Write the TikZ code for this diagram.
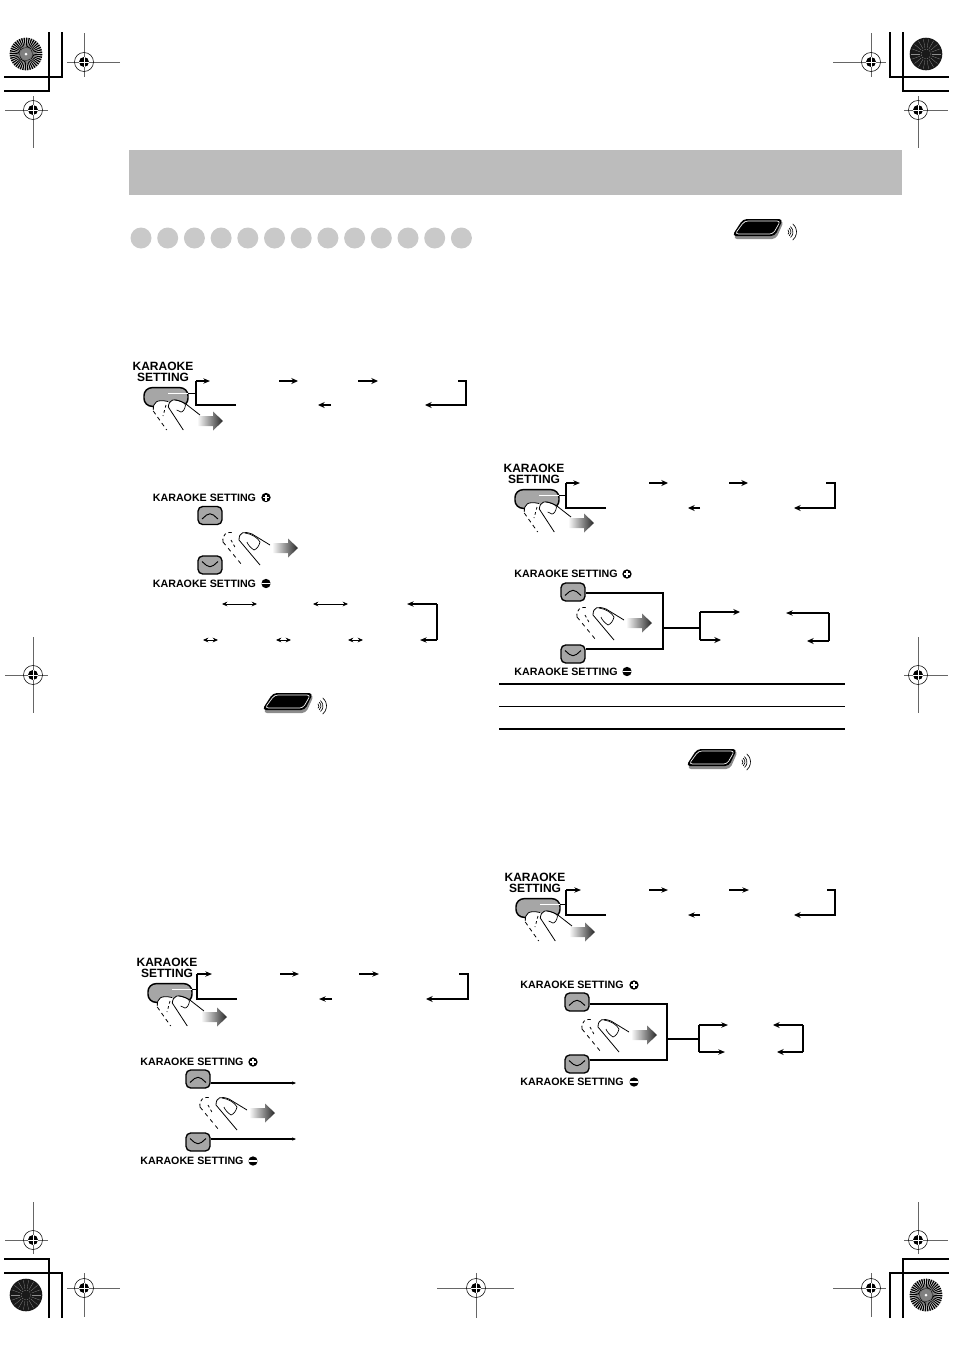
\documentclass[tikz,border=0pt]{standalone}
\usepackage{fontspec}
\setmainfont{Liberation Sans}
\usetikzlibrary{arrows.meta,calc}
\definecolor{bandgray}{HTML}{BCBCBC}
\definecolor{dotgray}{HTML}{C9C9C9}
\definecolor{keygray}{HTML}{A6A6A6}
\tikzset{
    flow/.style={line width=0.8pt,-{Stealth[length=5pt,width=4pt]}},
    flowthick/.style={line width=1.2pt,-{Stealth[length=5pt,width=4.5pt]}},
    both/.style={line width=0.7pt,{Stealth[length=4pt,width=3.5pt]}-{Stealth[length=4pt,width=3.5pt]}},
    wire/.style={line width=0.8pt},
    wirethick/.style={line width=1.2pt},
    keylabel/.style={font=\bfseries\fontsize{8}{9}\selectfont,inner sep=0pt},
    biglabel/.style={font=\bfseries\fontsize{9}{8.6}\selectfont,align=center,inner sep=0pt},
    keybtn/.style={draw,fill=keygray,line width=1pt,rounded corners=3.5pt,minimum width=18pt,minimum height=13.5pt,inner sep=0pt},
    upbtn/.style={keybtn,path picture={\draw[line width=0.7pt] (path picture bounding box.center) ++(-8,3.5) -- ++(8,-7) -- ++(8,7);}},
    downbtn/.style={keybtn,path picture={\draw[line width=0.7pt] (path picture bounding box.center) ++(-8,-3.5) -- ++(8,7) -- ++(8,-7);}},
    plusdot/.style={circle,fill=black,minimum size=7pt,inner sep=0pt,path picture={\draw[white,line width=0.9pt] (path picture bounding box.center) ++(-3,0) -- ++(6,0) ++(-3,-3) -- ++(0,6);}},
    minusdot/.style={circle,fill=black,minimum size=7pt,inner sep=0pt,path picture={\draw[white,line width=0.9pt] (path picture bounding box.center) ++(-6,0) -- ++(12,0);}},
    pill/.style={draw,fill=keygray,line width=1.1pt,rounded corners=6pt,minimum width=33pt,minimum height=14pt,inner sep=0pt},
    regline/.style={line width=0.5pt,black!60},
    pics/shadearrow/.style={code={
        \shade[left color=white,middle color=black!65,right color=black!85] (0,-5) -- (16,-5) -- (16,-9.5) -- (26,0) -- (16,9.5) -- (16,5) -- (0,5) -- cycle;
    }},
    pics/presshand/.style={code={
        \node[pill] (pill) at (3,25) {};
        \draw[white,line width=1pt] (5,21.3) -- (25,21.3);
        \coordinate (grip) at (25,21.3);
        \fill[white] (-9.7,39) .. controls (-10,30) and (-6,27) .. (5,29.5) -- (12,40) -- (4,58) -- cycle;
        \fill[white] (5.3,35) .. controls (6,28) and (10,25) .. (22,31.3) -- (37,43) -- (20.3,58) -- cycle;
        \draw[line width=0.6pt] (-9.7,38) .. controls (-10,30) and (-6,27) .. (5,29.5);
        \draw[line width=0.6pt] (5.3,35) .. controls (6,28) and (10,25) .. (22,31.3) -- (37,43);
        \draw[line width=0.6pt] (5.3,35) -- (20.3,58);
        \draw[line width=0.5pt] (12,28) .. controls (18,29) and (22,31) .. (22.5,33) .. controls (22,37) and (20,40) .. (18,40) -- (13.7,38);
        \draw[line width=0.6pt,dash pattern=on 3pt off 2.5pt] (-9.7,39) -- (3.7,58);
        \draw[line width=0.6pt,dash pattern=on 2pt off 2pt] (3,33) -- (0,44);
        \pic at (34,49) {shadearrow};
    }},
    pics/tiphand/.style={code={
        \draw[line width=0.6pt,dash pattern=on 2.5pt off 2pt] (13,2) .. controls (12,-5) and (16,-9) .. (24,-7);
        \draw[line width=0.6pt,dash pattern=on 3pt off 3pt] (13,2) -- (32,25);
        \draw[line width=0.6pt,dash pattern=on 2pt off 2pt] (21,0) -- (26,9);
        \fill[white] (29,0) .. controls (29,-8) and (34,-9) .. (42,-6) -- (60,5) -- (50,25) -- cycle;
        \draw[line width=0.6pt] (50,25) -- (29,0) .. controls (29,-8) and (34,-9) .. (42,-6) -- (60,5);
        \draw[line width=0.5pt] (35,-7) .. controls (42,-6) and (48,-2) .. (50,2) .. controls (49,6) and (47,9) .. (44,10) .. controls (41,8) and (38,5) .. (37,2);
        \pic at (62,8) {shadearrow};
    }},
    pics/remote/.style={code={
        \fill[black!45,rounded corners=3pt] (-24,11) -- (-13,-7) -- (27,-7) -- (19,11) -- cycle;
        \fill[black,rounded corners=3pt] (-25,8) -- (-14,-9) -- (26,-9) -- (18,8) -- cycle;
        \draw[white,line width=0.5pt,rounded corners=2.5pt] (-22,6) -- (-12.5,-7) -- (23.5,-7) -- (16,6) -- cycle;
        \foreach \rad in {3,5,7,10.5} {
            \draw[line width=0.5pt] (29,4) ++(-50:\rad) arc[start angle=-50,end angle=50,radius=\rad];
        }
    }},
    pics/sunlight/.style={code={
        \fill[black!15] (0,0) circle[radius=16.3];
        \foreach \ang in {0,9,...,351} {
            \fill[black] (0,0) -- (\ang:16.3) arc[start angle=\ang,delta angle=5,radius=16.3] -- cycle;
        }
        \fill[black!50] (0,0) circle[radius=6];
        \fill[white] (0,0) circle[radius=1.5];
    }},
    pics/sundark/.style={code={
        \fill[black!90] (0,0) circle[radius=16.3];
        \foreach \ang in {0,20,...,340} {
            \draw[black!45,line width=0.2pt] (\ang:6) -- (\ang:15);
        }
        \draw[black!55,line width=0.4pt,dash pattern=on 1pt off 1pt] (0,0) circle[radius=5];
    }}
}
\begin{document}
\begin{tikzpicture}[x=0.75pt,y=-0.75pt]
    \useasboundingbox (0,0) rectangle (954,1350);

    % header band and dots
    \fill[bandgray] (129,150) rectangle (902,195);
    \foreach \i in {0,...,12} {
        \fill[dotgray] (141+26.7*\i,238) circle[radius=10.5];
    }

    % printer marks
    \pic at (26,54) {sunlight};
    \pic at (926,54) {sundark};
    \pic at (26,1295) {sundark};
    \pic at (926,1295) {sunlight};
    \draw[line width=0.9pt] (62,32) -- (62,77) -- (4,77);
    \draw[line width=0.9pt] (49,32) -- (49,91) -- (4,91);
    \draw[line width=0.9pt] (890,32) -- (890,77) -- (949,77);
    \draw[line width=0.9pt] (903,32) -- (903,91) -- (949,91);
    \draw[line width=0.9pt] (49,1318) -- (49,1259) -- (4,1259);
    \draw[line width=0.9pt] (62,1318) -- (62,1273) -- (4,1273);
    \draw[line width=0.9pt] (903,1318) -- (903,1259) -- (949,1259);
    \draw[line width=0.9pt] (890,1318) -- (890,1273) -- (949,1273);
    \foreach \x/\y/\armw/\arme/\armn/\arms in {84/62/17/36/29/15, 33/110/28/15/14/38, 871/62/38/15/29/15, 918/110/14/30/14/38,
        33/675/28/15/38/38, 918/675/14/30/38/38, 33/1240/28/15/38/14, 84/1288/17/36/15/29,
        918/1240/14/30/38/14, 871/1288/38/15/15/29, 476/1288/39/38/15/30} {
        \draw[regline] (\x-\armw,\y) -- (\x+\arme,\y);
        \draw[regline] (\x,\y-\armn) -- (\x,\y+\arms);
        \draw[line width=0.4pt] (\x,\y) circle[radius=9.5];
        \fill (\x,\y) circle[radius=5];
        \draw[white,line width=0.5pt] (\x-5,\y) -- (\x+5,\y);
        \draw[white,line width=0.5pt] (\x,\y-5) -- (\x,\y+5);
    }

    % remote signs
    \pic at (757,228) {remote};
    \pic at (287,702) {remote};
    \pic at (711,758) {remote};

    % pressed key groups with their loops
    \foreach \g/\lx/\ly/\bx/\ty/\by/\tipx/\endx/\ax/\ay/\az/\aw/\cstart/\cside/\cstop/\backa/\backb/\rowstyle in {
        a/163/372/196/381/405/210/236/279/298/358/378/458/466/425/331/318/flowthick,
        c/167/968/197/974/999/212/237/280/299/359/379/459/468/426/332/319/flow,
        b/534/474/566/483/508/580/606/649/668/729/748/826/835/794/700/688/flowthick,
        d/535/883/566/890/915/581/606/649/668/729/749/827/835/794/700/688/flow} {
        \node[biglabel] (\g key) at (\lx,\ly) {KARAOKE\\SETTING};
        \pic (\g) at (\g key.center) {presshand};
        \coordinate (\g top) at (\bx,\ty);
        \coordinate (\g bot) at (\bx,\by);
        \coordinate (\g tip) at (\tipx,\ty);
        \coordinate (\g end) at (\endx,\by);
        \draw[wire] (\g grip) -- (\g grip -| \g top);
        \draw[wirethick] (\g end) -- (\g bot) -- (\g top);
        \draw[flow] (\g top) -- (\g tip);
        \coordinate (\g A) at (\ax,\ty);
        \coordinate (\g B) at (\ay,\ty);
        \coordinate (\g C) at (\az,\ty);
        \coordinate (\g D) at (\aw,\ty);
        \draw[\rowstyle] (\g A) -- (\g B);
        \draw[\rowstyle] (\g C) -- (\g D);
        \coordinate (\g E) at (\cstart,\ty);
        \coordinate (\g F) at (\cside,\ty);
        \coordinate (\g G) at (\cside,\by);
        \coordinate (\g H) at (\cstop,\by);
        \draw[flowthick] (\g E) -- (\g F) -- (\g G) -- (\g H);
        \coordinate (\g I) at (\backa,\by);
        \coordinate (\g J) at (\backb,\by);
        \draw[\rowstyle] (\g I) -- (\g J);
    }

    % first up/down keys
    \node[keylabel] (aPlusText) at (204.5,497.5) {KARAOKE SETTING};
    \node[plusdot] (aPlus) at (266,497.5) {};
    \node[upbtn] (aUp) at (210,515.5) {};
    \node[downbtn] (aDown) at (210,565) {};
    \node[keylabel] (aMinusText) at (204.5,583.5) {KARAOKE SETTING};
    \node[minusdot] (aMinus) at (266,583.5) {};
    \pic at (210,540) {tiphand};
    \foreach \n/\x/\y in {r1/222/604, r2/257/604, r3/313/604, r4/348/604, r5/407/604, r6/437/604,
        r7/437/640, r8/420/640, s1/203/640, s2/218/640, s3/276/640, s4/291/640, s5/348/640, s6/363/640} {
        \coordinate (\n) at (\x,\y);
    }
    \draw[both] (r1) -- (r2);
    \draw[both] (r3) -- (r4);
    \draw[flow] (r6) -- (r5);
    \draw[wirethick] (r6) -- (r7);
    \draw[flow] (r7) -- (r8);
    \draw[both] (s1) -- (s2);
    \draw[both] (s3) -- (s4);
    \draw[both] (s5) -- (s6);

    % second up/down keys
    \node[keylabel] (cPlusText) at (192,1062) {KARAOKE SETTING};
    \node[plusdot] (cPlus) at (253,1062) {};
    \node[upbtn] (cUp) at (198,1079) {};
    \node[downbtn] (cDown) at (198,1142) {};
    \node[keylabel] (cMinusText) at (192,1161) {KARAOKE SETTING};
    \node[minusdot] (cMinus) at (253,1161) {};
    \pic at (187,1105) {tiphand};
    \coordinate (cUpEnd) at (296,1083);
    \coordinate (cDownEnd) at (296,1139);
    \draw[wire,-{Stealth[length=3pt,width=2.5pt]}] (cUp.east |- cUpEnd) -- (cUpEnd);
    \draw[wire,-{Stealth[length=3pt,width=2.5pt]}] (cDown.east |- cDownEnd) -- (cDownEnd);

    % third up/down keys
    \node[keylabel] (bPlusText) at (566,574) {KARAOKE SETTING};
    \node[plusdot] (bPlus) at (627,574) {};
    \node[upbtn] (bUp) at (573,592) {};
    \node[downbtn] (bDown) at (573,654) {};
    \node[keylabel] (bMinusText) at (566,671.5) {KARAOKE SETTING};
    \node[minusdot] (bMinus) at (627,671.5) {};
    \pic at (564,615) {tiphand};
    \foreach \n/\x/\y in {k1/663/593, k2/663/649, k3/663/628, k4/700/628, k5/700/612, k6/700/640,
        k7/740/612, k8/721/640, k9/829/613, k10/829/641, k11/786/613, k12/807/641} {
        \coordinate (\n) at (\x,\y);
    }
    \draw[wire] (bUp.east |- k1) -- (k1) -- (k2) -- (bDown.east |- k2);
    \draw[wire] (k3) -- (k4);
    \draw[wirethick] (k6) -- (k5);
    \draw[flowthick] (k5) -- (k7);
    \draw[flowthick] (k6) -- (k8);
    \draw[flow] (k9) -- (k11);
    \draw[wirethick] (k9) -- (k10);
    \draw[flowthick] (k10) -- (k12);

    % table rules
    \draw[line width=1.4pt] (499,684) -- (845,684);
    \draw[line width=0.7pt] (499,706) -- (845,706);
    \draw[line width=1.4pt] (499,729) -- (845,729);

    % fourth up/down keys
    \node[keylabel] (dPlusText) at (572,985) {KARAOKE SETTING};
    \node[plusdot] (dPlus) at (634,985) {};
    \node[upbtn] (dUp) at (577,1002) {};
    \node[downbtn] (dDown) at (577,1064) {};
    \node[keylabel] (dMinusText) at (572,1082) {KARAOKE SETTING};
    \node[minusdot] (dMinus) at (634,1082) {};
    \pic at (569,1027) {tiphand};
    \foreach \n/\x/\y in {m1/667/1004, m2/667/1060, m3/667/1039, m4/699/1039, m5/699/1025, m6/699/1052,
        m7/728/1025, m8/725/1052, m9/803/1025, m10/803/1052, m11/773/1025, m12/777/1052} {
        \coordinate (\n) at (\x,\y);
    }
    \draw[wire] (dUp.east |- m1) -- (m1) -- (m2) -- (dDown.east |- m2);
    \draw[wire] (m3) -- (m4);
    \draw[wirethick] (m6) -- (m5);
    \draw[flow] (m5) -- (m7);
    \draw[flow] (m6) -- (m8);
    \draw[flowthick] (m9) -- (m11);
    \draw[wirethick] (m9) -- (m10);
    \draw[flowthick] (m10) -- (m12);
\end{tikzpicture}
\end{document}
